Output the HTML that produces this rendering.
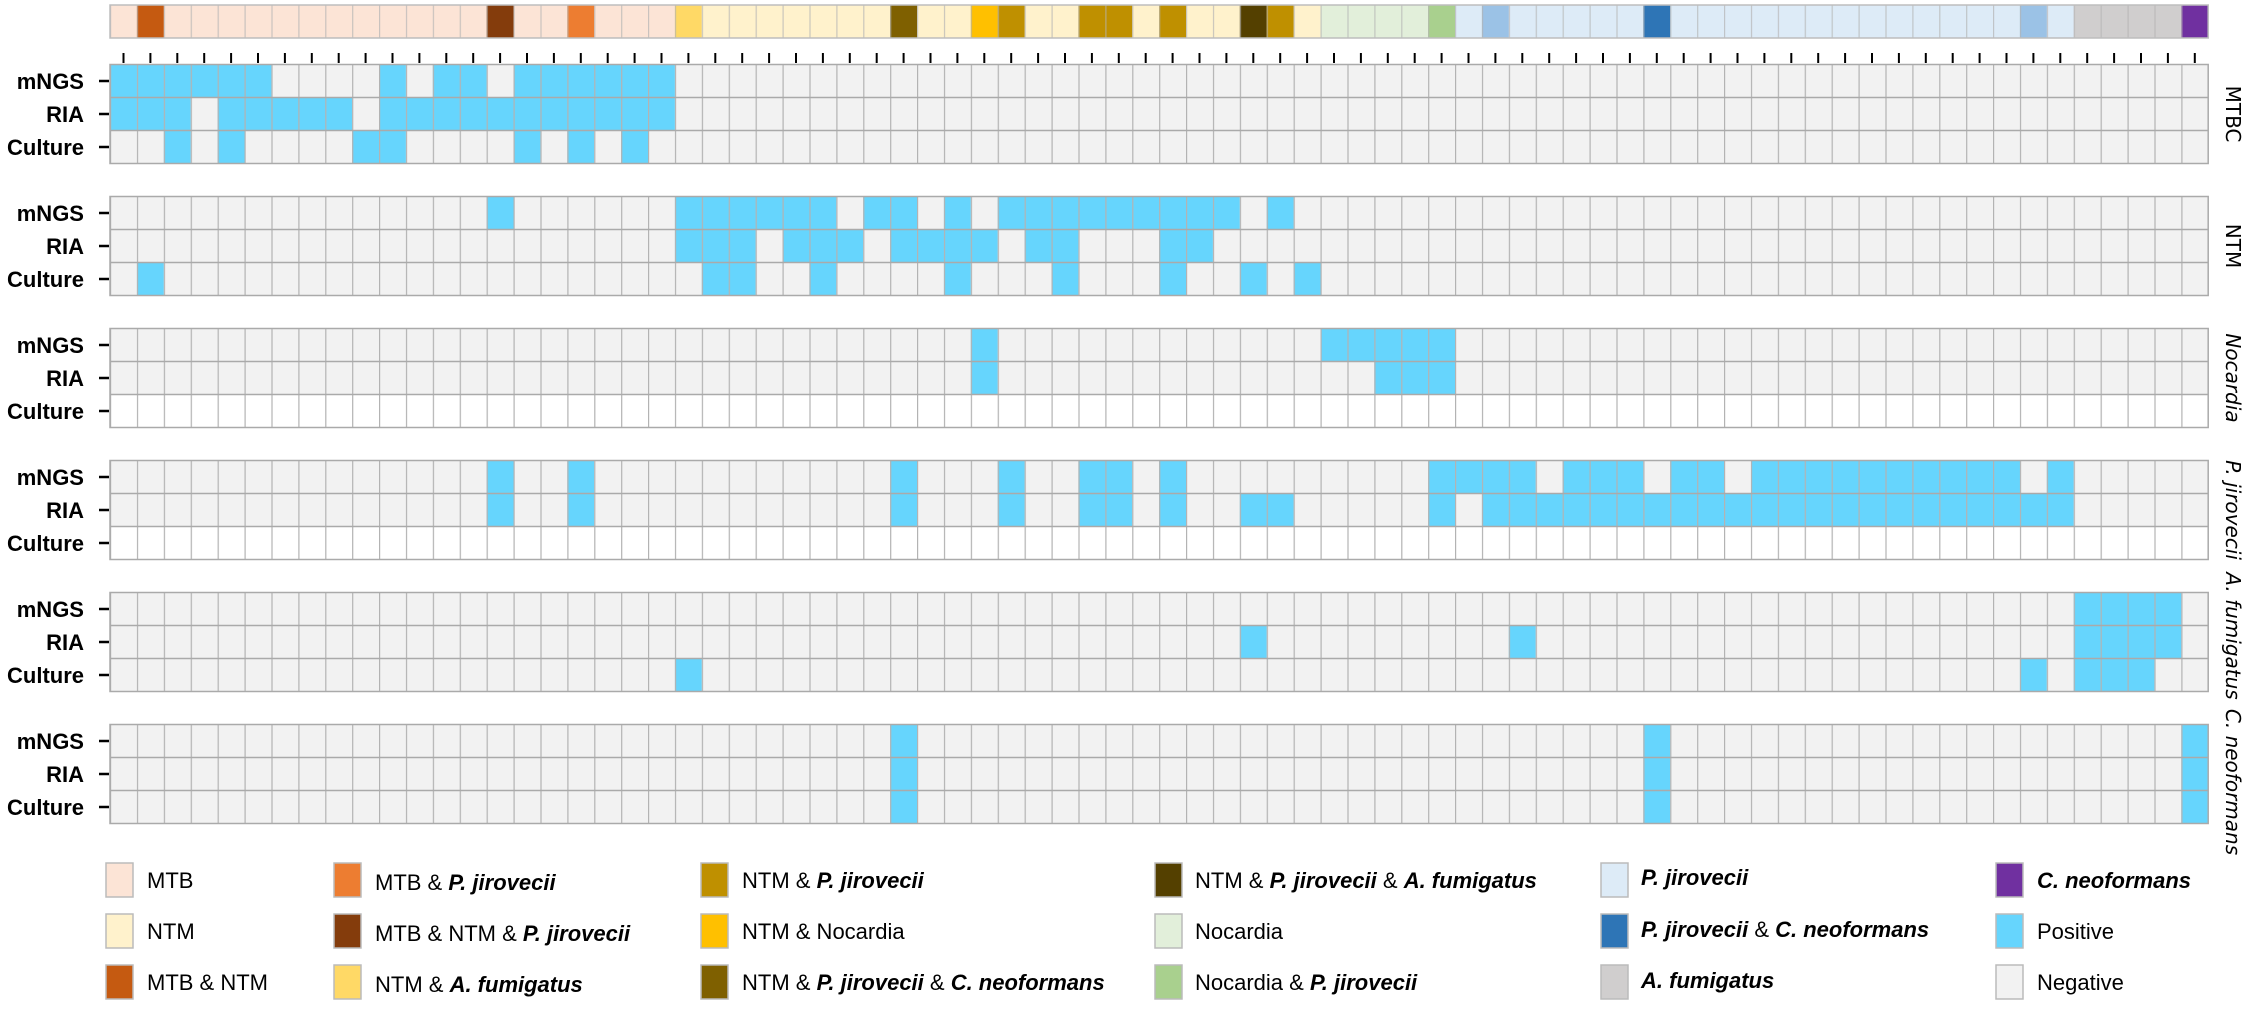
<!DOCTYPE html>
<html><head><meta charset="utf-8"><style>html,body{margin:0;padding:0;background:#fff}svg{display:block}</style></head>
<body>
<svg xmlns="http://www.w3.org/2000/svg" width="2243" height="1018" viewBox="0 0 2243 1018">
<defs>
<pattern id="vl" x="110" y="0" width="26.9" height="1018" patternUnits="userSpaceOnUse">
<rect x="0" y="0" width="1.2" height="1018" fill="#b3b3b3"/>
</pattern>
</defs>
<g id="bar">
<rect x="110" y="5" width="2098.2" height="33" fill="#fce4d6"/>
<rect x="136.9" y="5" width="26.9" height="33" fill="#c55a11"/>
<rect x="486.6" y="5" width="26.9" height="33" fill="#843c0c"/>
<rect x="567.3" y="5" width="26.9" height="33" fill="#ed7d31"/>
<rect x="674.9" y="5" width="26.9" height="33" fill="#ffd966"/>
<rect x="701.8" y="5" width="645.6" height="33" fill="#fff2cc"/>
<rect x="890.1" y="5" width="26.9" height="33" fill="#7f6000"/>
<rect x="970.8" y="5" width="26.9" height="33" fill="#ffc000"/>
<rect x="997.7" y="5" width="26.9" height="33" fill="#bf9000"/>
<rect x="1078.4" y="5" width="53.8" height="33" fill="#bf9000"/>
<rect x="1159.1" y="5" width="26.9" height="33" fill="#bf9000"/>
<rect x="1239.8" y="5" width="26.9" height="33" fill="#544000"/>
<rect x="1266.7" y="5" width="26.9" height="33" fill="#bf9000"/>
<rect x="1320.5" y="5" width="107.6" height="33" fill="#e2efda"/>
<rect x="1428.1" y="5" width="26.9" height="33" fill="#a9d08e"/>
<rect x="1455" y="5" width="645.6" height="33" fill="#ddebf7"/>
<rect x="1481.9" y="5" width="26.9" height="33" fill="#9bc2e6"/>
<rect x="1643.3" y="5" width="26.9" height="33" fill="#2e75b6"/>
<rect x="2019.9" y="5" width="26.9" height="33" fill="#9bc2e6"/>
<rect x="2073.7" y="5" width="107.6" height="33" fill="#d0cece"/>
<rect x="2181.3" y="5" width="26.9" height="33" fill="#7030a0"/>
<rect x="110" y="5" width="2098.2" height="33" fill="url(#vl)" opacity="0.7"/>
<rect x="110" y="5" width="2098.2" height="33" fill="none" stroke="#bdbdbd" stroke-width="1.5"/>
</g>
<g id="ticks" stroke="#000" stroke-width="2">
<path d="M123.5 53V63M150.4 53V63M177.3 53V63M204.2 53V63M231.1 53V63M258 53V63M284.9 53V63M311.8 53V63M338.7 53V63M365.6 53V63M392.5 53V63M419.4 53V63M446.3 53V63M473.2 53V63M500.1 53V63M527 53V63M553.9 53V63M580.8 53V63M607.7 53V63M634.6 53V63M661.5 53V63M688.4 53V63M715.3 53V63M742.2 53V63M769.1 53V63M796 53V63M822.9 53V63M849.8 53V63M876.7 53V63M903.6 53V63M930.5 53V63M957.4 53V63M984.3 53V63M1011.2 53V63M1038.1 53V63M1065 53V63M1091.9 53V63M1118.8 53V63M1145.7 53V63M1172.6 53V63M1199.5 53V63M1226.4 53V63M1253.3 53V63M1280.2 53V63M1307.1 53V63M1334 53V63M1360.9 53V63M1387.8 53V63M1414.7 53V63M1441.6 53V63M1468.5 53V63M1495.4 53V63M1522.3 53V63M1549.2 53V63M1576.1 53V63M1603 53V63M1629.9 53V63M1656.8 53V63M1683.7 53V63M1710.6 53V63M1737.5 53V63M1764.4 53V63M1791.3 53V63M1818.2 53V63M1845.1 53V63M1872 53V63M1898.9 53V63M1925.8 53V63M1952.7 53V63M1979.6 53V63M2006.5 53V63M2033.4 53V63M2060.3 53V63M2087.2 53V63M2114.1 53V63M2141 53V63M2167.9 53V63M2194.8 53V63"/>
</g>

<g fill="#f2f2f2">
<rect x="110" y="64.5" width="2098.2" height="99"/>
<rect x="110" y="196.5" width="2098.2" height="99"/>
<rect x="110" y="328.5" width="2098.2" height="66"/>
<rect x="110" y="460.5" width="2098.2" height="66"/>
<rect x="110" y="592.5" width="2098.2" height="99"/>
<rect x="110" y="724.5" width="2098.2" height="99"/>
</g>
<g fill="#66d5fd">
<rect x="110" y="64.5" width="161.4" height="33"/>
<rect x="379" y="64.5" width="26.9" height="33"/>
<rect x="432.8" y="64.5" width="53.8" height="33"/>
<rect x="513.5" y="64.5" width="161.4" height="33"/>
<rect x="110" y="97.5" width="80.7" height="33"/>
<rect x="217.6" y="97.5" width="134.5" height="33"/>
<rect x="379" y="97.5" width="295.9" height="33"/>
<rect x="163.8" y="130.5" width="26.9" height="33"/>
<rect x="217.6" y="130.5" width="26.9" height="33"/>
<rect x="352.1" y="130.5" width="53.8" height="33"/>
<rect x="513.5" y="130.5" width="26.9" height="33"/>
<rect x="567.3" y="130.5" width="26.9" height="33"/>
<rect x="621.1" y="130.5" width="26.9" height="33"/>
<rect x="486.6" y="196.5" width="26.9" height="33"/>
<rect x="674.9" y="196.5" width="161.4" height="33"/>
<rect x="863.2" y="196.5" width="53.8" height="33"/>
<rect x="943.9" y="196.5" width="26.9" height="33"/>
<rect x="997.7" y="196.5" width="242.1" height="33"/>
<rect x="1266.7" y="196.5" width="26.9" height="33"/>
<rect x="674.9" y="229.5" width="80.7" height="33"/>
<rect x="782.5" y="229.5" width="80.7" height="33"/>
<rect x="890.1" y="229.5" width="107.6" height="33"/>
<rect x="1024.6" y="229.5" width="53.8" height="33"/>
<rect x="1159.1" y="229.5" width="53.8" height="33"/>
<rect x="136.9" y="262.5" width="26.9" height="33"/>
<rect x="701.8" y="262.5" width="53.8" height="33"/>
<rect x="809.4" y="262.5" width="26.9" height="33"/>
<rect x="943.9" y="262.5" width="26.9" height="33"/>
<rect x="1051.5" y="262.5" width="26.9" height="33"/>
<rect x="1159.1" y="262.5" width="26.9" height="33"/>
<rect x="1239.8" y="262.5" width="26.9" height="33"/>
<rect x="1293.6" y="262.5" width="26.9" height="33"/>
<rect x="970.8" y="328.5" width="26.9" height="66"/>
<rect x="1320.5" y="328.5" width="134.5" height="33"/>
<rect x="1374.3" y="361.5" width="80.7" height="33"/>
<rect x="486.6" y="460.5" width="26.9" height="66"/>
<rect x="567.3" y="460.5" width="26.9" height="66"/>
<rect x="890.1" y="460.5" width="26.9" height="66"/>
<rect x="997.7" y="460.5" width="26.9" height="66"/>
<rect x="1078.4" y="460.5" width="53.8" height="66"/>
<rect x="1159.1" y="460.5" width="26.9" height="66"/>
<rect x="1428.1" y="460.5" width="107.6" height="33"/>
<rect x="1562.6" y="460.5" width="80.7" height="33"/>
<rect x="1670.2" y="460.5" width="53.8" height="33"/>
<rect x="1751" y="460.5" width="269" height="33"/>
<rect x="2046.8" y="460.5" width="26.9" height="33"/>
<rect x="1239.8" y="493.5" width="53.8" height="33"/>
<rect x="1428.1" y="493.5" width="26.9" height="33"/>
<rect x="1481.9" y="493.5" width="591.8" height="33"/>
<rect x="2073.7" y="592.5" width="107.6" height="66"/>
<rect x="1239.8" y="625.5" width="26.9" height="33"/>
<rect x="1508.8" y="625.5" width="26.9" height="33"/>
<rect x="674.9" y="658.5" width="26.9" height="33"/>
<rect x="2019.9" y="658.5" width="26.9" height="33"/>
<rect x="2073.7" y="658.5" width="80.7" height="33"/>
<rect x="890.1" y="724.5" width="26.9" height="99"/>
<rect x="1643.3" y="724.5" width="26.9" height="99"/>
<rect x="2181.3" y="724.5" width="26.9" height="99"/>
</g>
<g fill="#fff">
<rect x="110" y="394.5" width="2098.2" height="33"/>
<rect x="110" y="526.5" width="2098.2" height="33"/>
</g>
<g>
<rect x="110" y="64.5" width="2098.2" height="99" fill="url(#vl)"/>
<rect x="110" y="196.5" width="2098.2" height="99" fill="url(#vl)"/>
<rect x="110" y="328.5" width="2098.2" height="99" fill="url(#vl)"/>
<rect x="110" y="460.5" width="2098.2" height="99" fill="url(#vl)"/>
<rect x="110" y="592.5" width="2098.2" height="99" fill="url(#vl)"/>
<rect x="110" y="724.5" width="2098.2" height="99" fill="url(#vl)"/>
</g>
<g stroke="#aaaaaa" stroke-width="1.5" fill="none">
<path d="M110 97.5H2208.2M110 130.5H2208.2M110 229.5H2208.2M110 262.5H2208.2M110 361.5H2208.2M110 394.5H2208.2M110 493.5H2208.2M110 526.5H2208.2M110 625.5H2208.2M110 658.5H2208.2M110 757.5H2208.2M110 790.5H2208.2"/>
<rect x="110" y="64.5" width="2098.2" height="99"/>
<rect x="110" y="196.5" width="2098.2" height="99"/>
<rect x="110" y="328.5" width="2098.2" height="99"/>
<rect x="110" y="460.5" width="2098.2" height="99"/>
<rect x="110" y="592.5" width="2098.2" height="99"/>
<rect x="110" y="724.5" width="2098.2" height="99"/>
</g>
<g stroke="#000" stroke-width="2.5">
<path d="M99 81H109M99 114H109M99 147H109M99 213H109M99 246H109M99 279H109M99 345H109M99 378H109M99 411H109M99 477H109M99 510H109M99 543H109M99 609H109M99 642H109M99 675H109M99 741H109M99 774H109M99 807H109"/>
</g>
<g font-family="'Liberation Sans', sans-serif" font-weight="bold" font-size="22" text-anchor="end" fill="#000">
<text x="84" y="89">mNGS</text><text x="84" y="122">RIA</text><text x="84" y="155">Culture</text>
<text x="84" y="221">mNGS</text><text x="84" y="254">RIA</text><text x="84" y="287">Culture</text>
<text x="84" y="353">mNGS</text><text x="84" y="386">RIA</text><text x="84" y="419">Culture</text>
<text x="84" y="485">mNGS</text><text x="84" y="518">RIA</text><text x="84" y="551">Culture</text>
<text x="84" y="617">mNGS</text><text x="84" y="650">RIA</text><text x="84" y="683">Culture</text>
<text x="84" y="749">mNGS</text><text x="84" y="782">RIA</text><text x="84" y="815">Culture</text>
</g>
<g font-family="'DejaVu Sans', sans-serif" font-size="20" text-anchor="middle" fill="#000">
<text transform="translate(2226,114) rotate(90)">MTBC</text>
<text transform="translate(2226,246) rotate(90)">NTM</text>
<text transform="translate(2226,378) rotate(90)" font-style="italic">Nocardia</text>
<text transform="translate(2226,510) rotate(90)" font-style="italic">P. jirovecii</text>
<text transform="translate(2226,636) rotate(90)" font-style="italic">A. fumigatus</text>
<text transform="translate(2226,782) rotate(90)" font-style="italic">C. neoformans</text>
</g>
<g stroke="#bbbbbb" stroke-width="1.5">
<rect x="106" y="863" width="27" height="34" fill="#fce4d6"/>
<rect x="106" y="914" width="27" height="34" fill="#fff2cc"/>
<rect x="106" y="965" width="27" height="34" fill="#c55a11"/>
<rect x="334" y="863" width="27" height="34" fill="#ed7d31"/>
<rect x="334" y="914" width="27" height="34" fill="#843c0c"/>
<rect x="334" y="965" width="27" height="34" fill="#ffd966"/>
<rect x="701" y="863" width="27" height="34" fill="#bf9000"/>
<rect x="701" y="914" width="27" height="34" fill="#ffc000"/>
<rect x="701" y="965" width="27" height="34" fill="#7f6000"/>
<rect x="1155" y="863" width="27" height="34" fill="#544000"/>
<rect x="1155" y="914" width="27" height="34" fill="#e2efda"/>
<rect x="1155" y="965" width="27" height="34" fill="#a9d08e"/>
<rect x="1601" y="863" width="27" height="34" fill="#ddebf7"/>
<rect x="1601" y="914" width="27" height="34" fill="#2e75b6"/>
<rect x="1601" y="965" width="27" height="34" fill="#d0cece"/>
<rect x="1996" y="863" width="27" height="34" fill="#7030a0"/>
<rect x="1996" y="914" width="27" height="34" fill="#66d5fd"/>
<rect x="1996" y="965" width="27" height="34" fill="#f2f2f2"/>
</g>
<g font-family="'Liberation Sans', sans-serif" font-size="22" fill="#000">
<text x="147" y="888">MTB</text>
<text x="147" y="939">NTM</text>
<text x="147" y="990">MTB &amp; NTM</text>
<text x="375" y="890">MTB &amp; <tspan font-style="italic" font-weight="bold">P. jirovecii</tspan></text>
<text x="375" y="941">MTB &amp; NTM &amp; <tspan font-style="italic" font-weight="bold">P. jirovecii</tspan></text>
<text x="375" y="992">NTM &amp; <tspan font-style="italic" font-weight="bold">A. fumigatus</tspan></text>
<text x="742" y="888">NTM &amp; <tspan font-style="italic" font-weight="bold">P. jirovecii</tspan></text>
<text x="742" y="939">NTM &amp; Nocardia</text>
<text x="742" y="990">NTM &amp; <tspan font-style="italic" font-weight="bold">P. jirovecii</tspan> &amp; <tspan font-style="italic" font-weight="bold">C. neoformans</tspan></text>
<text x="1195" y="888">NTM &amp; <tspan font-style="italic" font-weight="bold">P. jirovecii</tspan> &amp; <tspan font-style="italic" font-weight="bold">A. fumigatus</tspan></text>
<text x="1195" y="939">Nocardia</text>
<text x="1195" y="990">Nocardia &amp; <tspan font-style="italic" font-weight="bold">P. jirovecii</tspan></text>
<text x="1641" y="885" font-style="italic" font-weight="bold">P. jirovecii</text>
<text x="1641" y="937"><tspan font-style="italic" font-weight="bold">P. jirovecii</tspan> &amp; <tspan font-style="italic" font-weight="bold">C. neoformans</tspan></text>
<text x="1641" y="988" font-style="italic" font-weight="bold">A. fumigatus</text>
<text x="2037" y="888" font-style="italic" font-weight="bold">C. neoformans</text>
<text x="2037" y="939">Positive</text>
<text x="2037" y="990">Negative</text>
</g>
</svg>
</body></html>
